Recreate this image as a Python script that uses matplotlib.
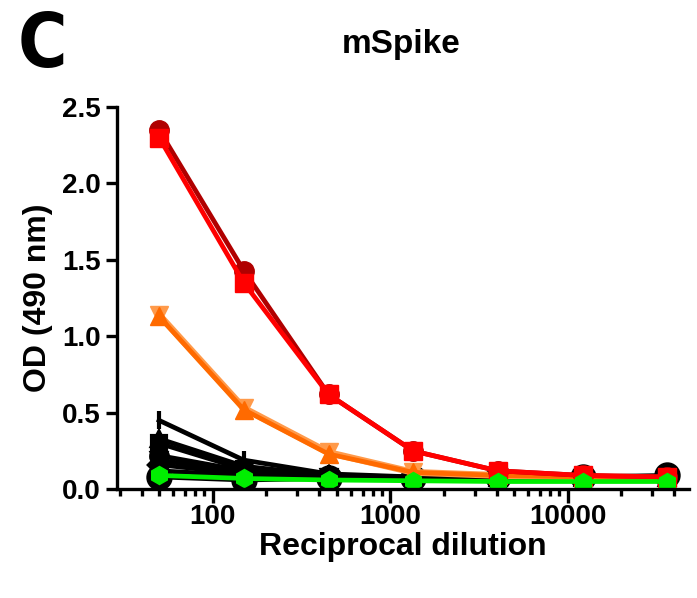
import numpy as np
import matplotlib
matplotlib.use("Agg")
import matplotlib.pyplot as plt
from matplotlib.ticker import FixedLocator, LogLocator, NullFormatter

plt.rcParams['font.family'] = ['Liberation Sans', 'DejaVu Sans']
plt.rcParams['font.weight'] = 'bold'

# dilution series
dilution = [50, 150, 450, 1350, 4050, 12150, 36450]

# positive sera (red / orange)
red_circle = [2.35, 1.43, 0.62, 0.25, 0.12, 0.09, 0.08]
red_square = [2.30, 1.35, 0.62, 0.25, 0.12, 0.09, 0.08]
orange_up = [1.13, 0.52, 0.23, 0.11, 0.09, 0.08, 0.07]
orange_down = [1.14, 0.53, 0.24, 0.11, 0.09, 0.08, 0.07]

# negative sera (black)
black_series = [
    [0.45, 0.19, 0.10, 0.08, 0.07, 0.07, 0.07],
    [0.33, 0.15, 0.09, 0.08, 0.07, 0.07, 0.07],
    [0.30, 0.13, 0.08, 0.07, 0.07, 0.07, 0.07],
    [0.22, 0.12, 0.08, 0.07, 0.07, 0.07, 0.08],
    [0.19, 0.11, 0.08, 0.07, 0.07, 0.07, 0.07],
    [0.16, 0.10, 0.08, 0.07, 0.07, 0.07, 0.07],
    [0.12, 0.09, 0.07, 0.07, 0.07, 0.07, 0.07],
    [0.08, 0.06, 0.07, 0.07, 0.08, 0.08, 0.09],
]
black_markers = ['|', '^', 's', 'o', 'v', 'D', 's', 'o']
black_fill = ['k', 'k', 'k', 'none', 'k', 'k', 'k', 'k']
black_size = [13, 10, 10, 12, 10, 10, 10, 16]

# pre-immune / control (green)
green = [0.09, 0.07, 0.06, 0.055, 0.05, 0.05, 0.05]

fig = plt.figure(figsize=(6.97, 5.98), dpi=100)
ax = fig.add_axes([0.168, 0.182, 0.821, 0.639])

lw = 3.4
for vals, m, fc, ms in zip(black_series, black_markers, black_fill, black_size):
    ax.plot(dilution, vals, color='k', lw=lw, marker=m, ms=ms,
            mfc=fc, mec='k', mew=3)

ax.plot(dilution, orange_down, color='#FF9A4A', lw=lw + 1.5, marker='v', ms=13, mec='#FF9A4A')
ax.plot(dilution, orange_up, color='#FF6A00', lw=lw, marker='^', ms=13, mec='#FF6A00')
ax.plot(dilution, red_circle, color='#B00000', lw=lw, marker='o', ms=14, mec='#B00000')
ax.plot(dilution, red_square, color='#FF0000', lw=lw, marker='s', ms=13, mec='#FF0000')
ax.plot(dilution, green, color='#00EE00', lw=lw, marker='h', ms=13, mec='#00EE00')

ax.set_xscale('log')
ax.set_xlim(29, 48500)
ax.set_ylim(0, 2.5)
ax.set_yticks([0, 0.5, 1.0, 1.5, 2.0, 2.5])
ax.set_yticklabels(['0.0', '0.5', '1.0', '1.5', '2.0', '2.5'])
ax.xaxis.set_major_locator(FixedLocator([100, 1000, 10000]))
ax.set_xticklabels(['100', '1000', '10000'])
ax.xaxis.set_minor_locator(LogLocator(base=10, subs=np.arange(2, 10), numticks=20))
ax.xaxis.set_minor_formatter(NullFormatter())

for s in ['top', 'right']:
    ax.spines[s].set_visible(False)
for s in ['left', 'bottom']:
    ax.spines[s].set_linewidth(2.4)
ax.tick_params(axis='both', which='major', width=2.4, length=8, labelsize=20, pad=4)
ax.tick_params(axis='x', which='minor', width=2.4, length=5)
ax.tick_params(axis='x', which='major', length=10, pad=1)

ax.set_xlabel('Reciprocal dilution', fontsize=23, fontweight='bold', labelpad=1)
ax.set_ylabel('OD (490 nm)', fontsize=23, fontweight='bold', labelpad=6)
fig.text(0.575, 0.925, 'mSpike', ha='center', va='center', fontsize=24, fontweight='bold')
fig.text(0.061, 0.922, 'C', ha='center', va='center', fontsize=54, fontweight='bold',
         family=['DejaVu Sans', 'Liberation Sans'], fontstretch='condensed')

fig.savefig('out.png', dpi=100)
